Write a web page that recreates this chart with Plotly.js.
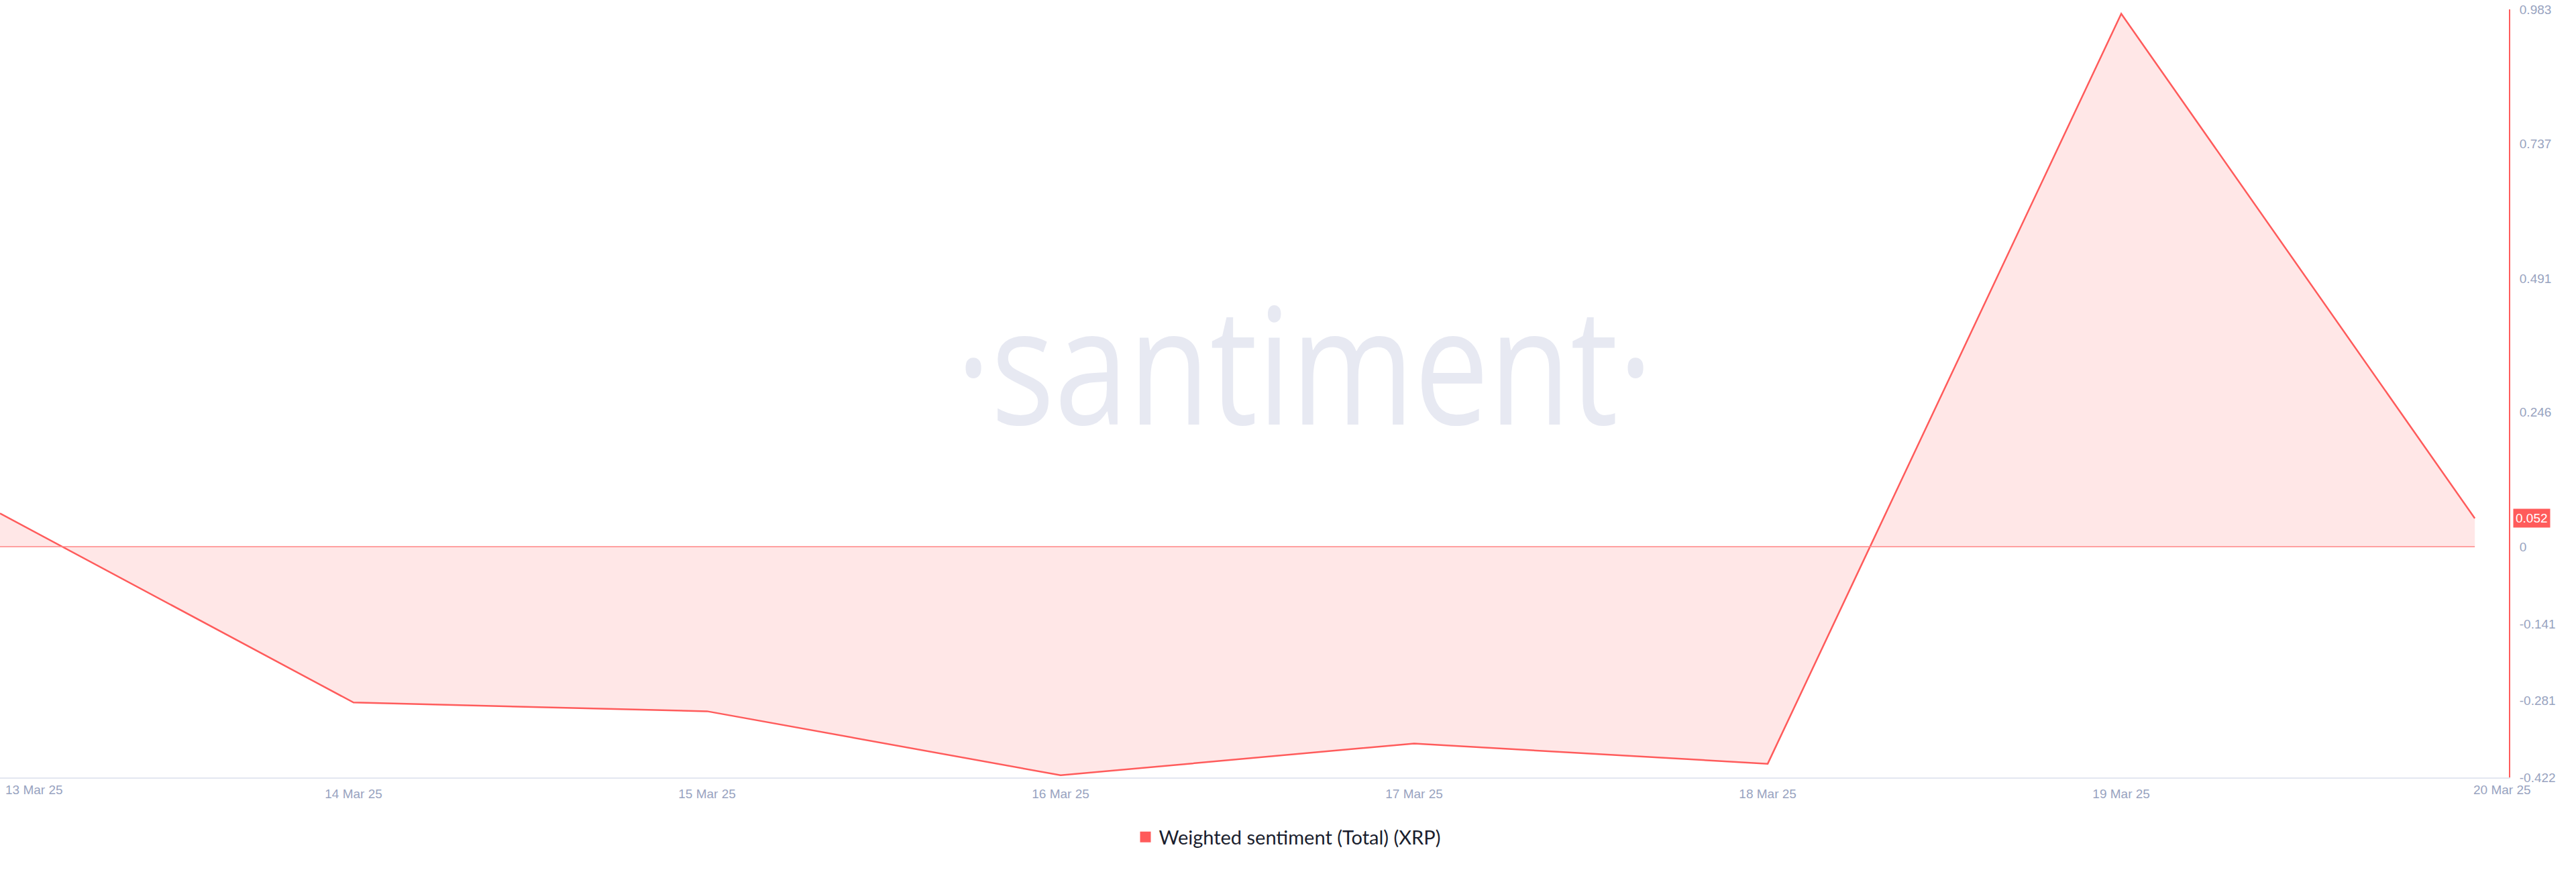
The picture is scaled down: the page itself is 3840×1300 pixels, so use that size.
<!DOCTYPE html>
<html>
<head>
<meta charset="utf-8">
<script src="https://cdn.plot.ly/plotly-3.0.1.min.js"></script>
<style>
  html, body { margin: 0; padding: 0; background: #ffffff; }
  #chart { width: 3840px; height: 1300px; }
</style>
</head>
<body>
<div id="chart"></div>
<script>
// ---- data ----
const dates = ['2025-03-13', '2025-03-14', '2025-03-15', '2025-03-16', '2025-03-17', '2025-03-18', '2025-03-19', '2025-03-20'];
const sentiment = [0.061, -0.285, -0.301, -0.418, -0.360, -0.397, 0.975, 0.052];
const seriesName = 'Weighted sentiment (Total) (XRP)';
const yTickVals = [0.983, 0.737, 0.491, 0.246, 0, -0.141, -0.281, -0.422];
const yTickText = ['0.983', '0.737', '0.491', '0.246', '0', '-0.141', '-0.281', '-0.422'];
const xTickVals = ['2025-03-14', '2025-03-15', '2025-03-16', '2025-03-17', '2025-03-18', '2025-03-19'];
const xTickText = ['14 Mar 25', '15 Mar 25', '16 Mar 25', '17 Mar 25', '18 Mar 25', '19 Mar 25'];
const firstLabel = '13 Mar 25';
const lastLabel = '20 Mar 25';
const watermark = '·santiment·';
const lastValue = sentiment[sentiment.length - 1];

// ---- styles ----
const RED = '#ff5b5b';
const TICK_COLOR = '#98a3bf';
const TICK_FONT = {family: 'Liberation Sans, Arial, Helvetica, sans-serif', size: 19, color: TICK_COLOR};

const traces = [
  {
    type: 'scatter',
    mode: 'lines',
    x: dates,
    y: sentiment,
    line: {color: RED, width: 2.5, shape: 'linear'},
    fill: 'tozeroy',
    fillcolor: 'rgba(255, 91, 91, 0.15)',
    showlegend: false,
    hoverinfo: 'x+y'
  },
  {
    type: 'scatter',
    mode: 'markers',
    x: [null],
    y: [null],
    name: seriesName,
    marker: {symbol: 'square', color: RED, size: 18},
    showlegend: true
  }
];

const layout = {
  width: 3840,
  height: 1300,
  margin: {l: 0, r: 100, t: 14, b: 141, pad: 0},
  paper_bgcolor: '#ffffff',
  plot_bgcolor: '#ffffff',
  showlegend: true,
  legend: {
    orientation: 'h',
    x: 0.5,
    xanchor: 'center',
    xref: 'container',
    y: 0.04,
    yanchor: 'middle',
    yref: 'container',
    font: {family: 'Lato, "Open Sans", sans-serif', size: 29, color: '#1a1e2e'},
    bgcolor: 'rgba(0,0,0,0)'
  },
  xaxis: {
    type: 'date',
    range: ['2025-03-13', '2025-03-20 02:19'],
    tickvals: xTickVals,
    ticktext: xTickText,
    tickfont: TICK_FONT,
    ticks: '',
    ticklabelstandoff: 6,
    showgrid: false,
    zeroline: false,
    showline: true,
    linecolor: '#e3e7f0',
    linewidth: 2,
    fixedrange: true
  },
  yaxis: {
    side: 'right',
    range: [-0.422, 0.983],
    tickvals: yTickVals,
    ticktext: yTickText,
    tickfont: TICK_FONT,
    ticks: '',
    ticklabelstandoff: 10,
    showgrid: false,
    zeroline: false,
    showline: true,
    linecolor: RED,
    linewidth: 2,
    fixedrange: true
  },
  shapes: [
    {
      type: 'line',
      xref: 'x', yref: 'y',
      x0: dates[0], x1: dates[dates.length - 1],
      y0: 0, y1: 0,
      line: {color: '#ff8585', width: 1.5},
      layer: 'above'
    }
  ],
  annotations: [
    {
      text: watermark,
      xref: 'paper', yref: 'paper',
      x: 0.52, y: 0.5415,
      xanchor: 'center', yanchor: 'middle',
      showarrow: false,
      font: {family: '"Open Sans", "Noto Sans", sans-serif', size: 242, color: '#e7e9f2'}
    },
    {
      text: firstLabel,
      xref: 'x', yref: 'paper',
      x: dates[0], y: 0,
      xanchor: 'left', yanchor: 'top',
      xshift: 6, yshift: -6,
      showarrow: false,
      font: TICK_FONT
    },
    {
      text: lastLabel,
      xref: 'x', yref: 'paper',
      x: dates[dates.length - 1], y: 0,
      xanchor: 'center', yanchor: 'top',
      xshift: 41, yshift: -6,
      showarrow: false,
      font: TICK_FONT
    },
    {
      text: lastValue.toFixed(3),
      xref: 'paper', yref: 'y',
      x: 1, y: lastValue,
      xanchor: 'left', yanchor: 'middle',
      xshift: 6,
      showarrow: false,
      bgcolor: RED,
      borderpad: 3,
      font: {family: 'Liberation Sans, Arial, sans-serif', size: 19, color: '#ffffff'}
    }
  ]
};

Plotly.newPlot('chart', traces, layout, {displayModeBar: false, staticPlot: true}).then(function (gd) {
  // narrow the watermark lettering (condensed look of the original logo)
  const texts = gd.querySelectorAll('.annotation-text');
  texts.forEach(function (t) {
    if (t.textContent === watermark) {
      t.style.transformBox = 'fill-box';
      t.style.transformOrigin = 'center';
      t.style.transform = 'scaleX(0.82)';
    }
  });
});
</script>
</body>
</html>
